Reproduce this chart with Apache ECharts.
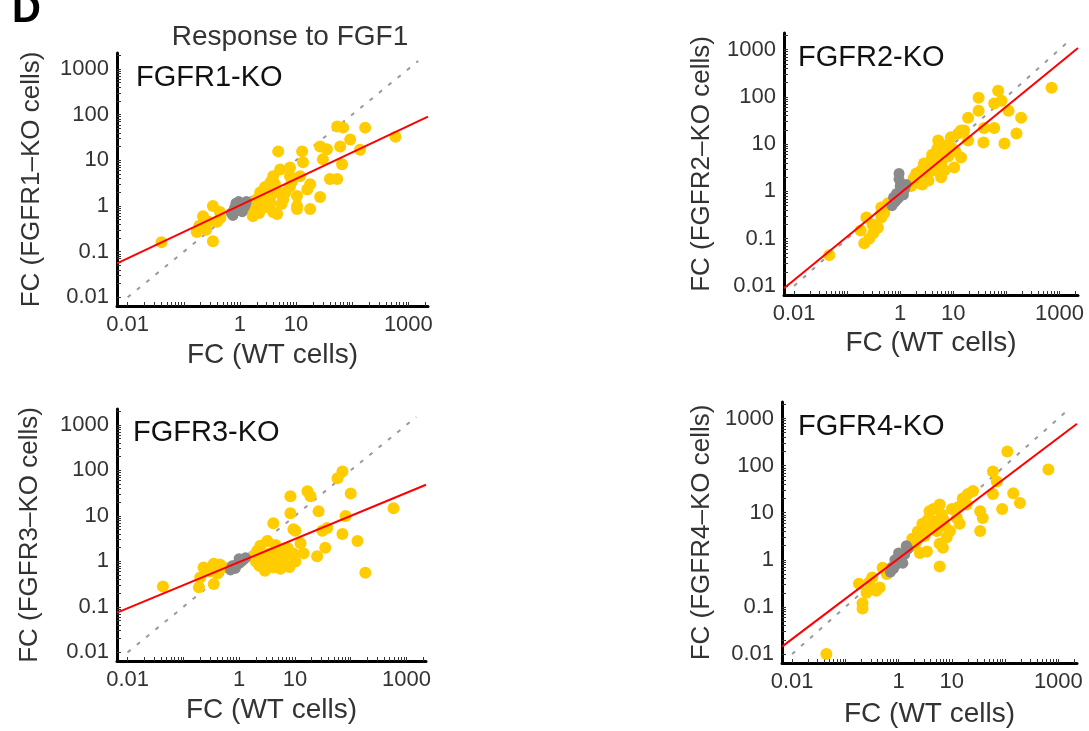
<!DOCTYPE html>
<html><head><meta charset="utf-8">
<script src="https://cdn.jsdelivr.net/npm/echarts@6/dist/echarts.min.js"></script>
<style>html,body{margin:0;padding:0;background:#fff}#c{width:1089px;height:731px}</style>
</head><body><div id="c"></div>
<script>
// ---------- text ----------
const figureLetter = 'D';
const chartTitle = 'Response to FGF1';
const panelNames = ['FGFR1-KO', 'FGFR2-KO', 'FGFR3-KO', 'FGFR4-KO'];
const yTitles = ['FC (FGFR1–KO cells)', 'FC (FGFR2–KO cells)', 'FC (FGFR3–KO cells)', 'FC (FGFR4–KO cells)'];
const xTitle = 'FC (WT cells)';

// ---------- axes ----------
const axisMin = 0.00646, axisMax = 2239;
const xLabelValues = [0.01, 1, 10, 1000];
const yLabelValues = [0.01, 0.1, 1, 10, 100, 1000];
const decades = [0.01, 0.1, 1, 10, 100, 1000];
const minorMultipliers = [1, 2, 3, 4, 5, 6, 7, 8, 9];

// ---------- data: [FC WT, FC KO] ----------
const fgfr1Yellow = [
 [0.04,0.16],[0.22,0.60],[0.33,1.0],[0.17,0.27],[0.39,0.45],[0.33,0.17],[0.19,0.37],[0.44,0.74],
 [2.3,0.86],[3.5,3.3],[2.3,2.0],[4.6,2.0],[4.6,0.67],[3.5,1.2],[7.8,2.7],[10.4,1.65],[5.9,1.4],[15.8,2.3],
 [5.2,6.3],[7.8,7.0],[4.8,15.7],[12.8,15.7],[13.3,9.1],[11.8,4.5],[17.8,3.0],[26.8,1.57],[17.8,0.86],
 [26.8,20],[30,10.5],[35.5,17.4],[40,3.9],[54,3.9],[66,8.2],[61,20],[92,28.7],[54,55],[69,52],[170,52],
 [138,17],[590,33],[7.8,4.5],[1.7,1.2],[2.6,1.57],[1.7,0.74],[3.9,4.5],[10.4,1.0],[3.5,2.3],[3.9,0.74],
 [1.7,0.6],[3.5,1.65],[10.4,0.86],
 [2.0,1.4],[2.8,2.6],[4.2,3.0],[6.5,2.0],[8.5,3.5],[3.0,0.95],[5.5,1.1],[2.2,0.7],[0.28,0.45],[0.25,0.3],[0.45,0.55]
];
const fgfr1Gray = [[0.7,0.7],[0.8,0.9],[0.9,0.8],[1.0,1.0],[1.1,1.1],[1.2,0.95],[0.85,1.15],[1.3,1.25],[0.75,0.62],[1.1,0.75],[0.95,1.25],[1.25,1.05]];
const fgfr1Fit = [[0.00646,0.0555],[2239,90.6]];

const fgfr2Yellow = [
 [0.046,0.045],[0.21,0.08],[0.23,0.28],[0.38,0.17],[0.44,0.28],[0.59,0.56],[0.31,0.13],[0.18,0.15],[0.44,0.46],
 [2.2,1.5],[2.5,2.8],[3.8,4.5],[5.9,2.0],[5.2,12],[9.2,8.5],[14,5.2],[12.4,16.7],[16,19.4],[6.8,2.8],[3.4,1.7],
 [10.4,3.2],[19,12],[30,96],[19,36],[30,51],[70,135],[59,72],[38,22],[59,22],[37,10.8],[92,10.3],[155,16.7],
 [190,36],[110,51],[81,83],[710,156],[2.8,3.9],[4.4,2.8],[2.2,2.0],[14,19.4],
 [1.6,1.3],[2.0,2.4],[3.0,3.3],[4.0,6.0],[6.0,4.0],[7.5,9.5],[8.0,5.5],[3.2,2.2],[4.8,3.6],[2.6,1.4],
 [0.3,0.2],[0.5,0.35],[0.26,0.1],[1.8,1.9],[2.9,1.9],[5,8],[9,14],[11,7],[6.5,5.5]
];
const fgfr2Gray = [[0.7,0.5],[0.8,0.6],[0.9,0.7],[1.0,0.8],[1.1,1.0],[1.2,1.1],[0.85,0.9],[1.0,1.3],[0.95,2.4],[1.3,1.4],[0.75,0.75],[1.15,0.85],[0.95,1.8]];
const fgfr2Fit = [[0.00646,0.009],[2239,1080]];

const fgfr3Yellow = [
 [0.043,0.28],[0.19,0.27],[0.35,0.32],[0.23,0.73],[0.35,0.89],[0.53,0.73],[0.20,0.44],[0.41,0.54],
 [3.2,2.8],[2.1,1.7],[2.7,1.2],[4.1,0.73],[6.2,1.0],[9.4,1.5],[12.6,2.5],[14.3,1.5],[7.4,2.0],[4.9,1.7],
 [4.1,6.9],[10.2,4.7],[8.3,11.5],[8.3,27],[16.8,35],[19,27],[26.5,12.7],[31,4.7],[38,5.4],[35,2.0],
 [25,1.3],[71,4.0],[81,10],[58,67],[71,95],[100,31],[132,2.8],[183,0.56],[585,14.8],[3.7,0.89],[9.4,5.1],
 [2.0,1.0],[2.9,0.62],[5.5,0.69],[10.2,1.0],[2.4,2.2],
 [1.8,1.3],[3.5,1.5],[5,1.2],[7,1.4],[4.5,2.3],[6,0.85],[8,0.75],[2.3,0.8],[0.3,0.6],[0.45,0.85]
];
const fgfr3Gray = [[0.7,0.65],[0.8,0.75],[0.9,0.85],[1.0,0.9],[1.1,1.0],[1.2,1.1],[0.85,0.7],[1.0,1.15],[1.3,1.2],[0.75,0.8]];
const fgfr3Fit = [[0.00646,0.075],[2239,48.3]];

const fgfr4Yellow = [
 [0.044,0.01],[0.21,0.12],[0.21,0.093],[0.18,0.31],[0.32,0.42],[0.38,0.22],[0.5,0.68],[0.44,0.26],
 [5.9,0.72],[2.2,2.5],[2.8,5.8],[3.8,10.8],[5.9,15],[5.2,4.1],[3.4,1.5],[5.9,2.2],[9.2,4.1],[12.4,7.7],
 [16,20],[25,29],[14,5.8],[6.8,1.8],[19,15],[34,10.8],[38,7.7],[34,4.1],[59,75],[70,46],[110,200],[88,12],
 [142,26],[190,16],[650,83],[59,25],[1.4,1.8],[2.0,2.0],[3.1,3.2],[4.8,6.6],[7.4,5.2],[2.5,1.4],
 [4.5,12],[6.5,9],[3.5,7],
 [0.25,0.2],[0.28,0.33],[0.6,0.5],[1.8,2.8],[2.3,4],[3.8,4.5],[8,3],[10,12],[13,13],[20,25],[7,7]
];
const fgfr4Gray = [[0.7,0.55],[0.8,0.65],[0.9,0.8],[1.0,0.9],[1.1,1.1],[1.3,1.3],[1.5,1.7],[0.85,1.0],[1.2,0.85],[1.0,1.4],[1.4,2.0],[0.75,0.7]];
const fgfr4Fit = [[0.00646,0.0144],[2239,773]];

const identityLine = [[0.01,0.01],[1500,1500]];

const yellowSets = [fgfr1Yellow, fgfr2Yellow, fgfr3Yellow, fgfr4Yellow];
const graySets = [fgfr1Gray, fgfr2Gray, fgfr3Gray, fgfr4Gray];
const fitSets = [fgfr1Fit, fgfr2Fit, fgfr3Fit, fgfr4Fit];

// ---------- layout ----------
const FONT = 'Liberation Sans, Arial, sans-serif';
const grids = [
  {left:117, top:53, width:311, height:253},
  {left:784, top:33, width:294, height:262},
  {left:117, top:409, width:309, height:252},
  {left:782, top:402, width:295, height:261}
];
const yNameGaps = [72, 69, 74, 67];
const xNameGaps = [35, 34, 35, 37];
const panelLabelPos = [[136,78],[798,58],[133,433],[798,427]];

const tickValues = [];
decades.forEach(d => minorMultipliers.forEach(m => { const v = +(d*m).toPrecision(3); if (v <= axisMax) tickValues.push(v); }));

const fmt = v => String(Number(Number(v).toPrecision(2)));

const xAxes = [], yAxes = [], series = [];
grids.forEach((g, i) => {
  const common = {
    type:'log', logBase:10, gridIndex:i, min:axisMin, max:axisMax,
    axisLine:{show:true, onZero:false, lineStyle:{color:'#000', width:3}},
    axisTick:{show:true, inside:true, length:4, customValues:tickValues, lineStyle:{color:'#333', width:1}},
    splitLine:{show:false}, minorTick:{show:false}, minorSplitLine:{show:false}
  };
  xAxes.push(Object.assign({}, common, {
    axisLabel:{customValues:xLabelValues, formatter:fmt, color:'#333', fontSize:22, fontFamily:FONT, margin:8},
    name:xTitle, nameLocation:'middle', nameGap:xNameGaps[i],
    nameTextStyle:{color:'#333', fontSize:28, fontFamily:FONT}
  }));
  yAxes.push(Object.assign({}, common, {
    axisLabel:{customValues:yLabelValues, formatter:fmt, color:'#333', fontSize:22, fontFamily:FONT, margin:8},
    name:yTitles[i], nameLocation:'middle', nameGap:yNameGaps[i], nameRotate:90,
    nameTextStyle:{color:'#333', fontSize:26, fontFamily:FONT}
  }));
  series.push({
    type:'line', xAxisIndex:i, yAxisIndex:i, data:identityLine, symbol:'none', silent:true, z:1,
    lineStyle:{color:'#9a9a9a', width:2, type:[4,8]}
  });
  series.push({
    type:'scatter', xAxisIndex:i, yAxisIndex:i, data:yellowSets[i], symbolSize:12, z:2,
    itemStyle:{color:'#FFCC00', opacity:1}
  });
  series.push({
    type:'scatter', xAxisIndex:i, yAxisIndex:i, data:graySets[i], symbolSize:11, z:3,
    itemStyle:{color:'#8a8a8a', opacity:1}
  });
  series.push({
    type:'line', xAxisIndex:i, yAxisIndex:i, data:fitSets[i], symbol:'none', silent:true, z:4,
    lineStyle:{color:'#ff0000', width:2}
  });
});

const graphics = [
  {type:'text', left:12, top:-9, style:{text:figureLetter, font:'bold 40px ' + FONT, fill:'#000'}},
  {type:'text', x:290, y:37, style:{text:chartTitle, font:'28px ' + FONT, fill:'#333', align:'center', verticalAlign:'middle'}}
];
panelNames.forEach((n, i) => {
  graphics.push({type:'text', x:panelLabelPos[i][0], y:panelLabelPos[i][1],
    style:{text:n, font:'29px ' + FONT, fill:'#111', align:'left', verticalAlign:'middle'}});
});

const chart = echarts.init(document.getElementById('c'), null, {renderer:'canvas'});
chart.setOption({
  animation:false,
  backgroundColor:'#fff',
  grid:grids,
  xAxis:xAxes,
  yAxis:yAxes,
  series:series,
  graphic:graphics
});
</script></body></html>
